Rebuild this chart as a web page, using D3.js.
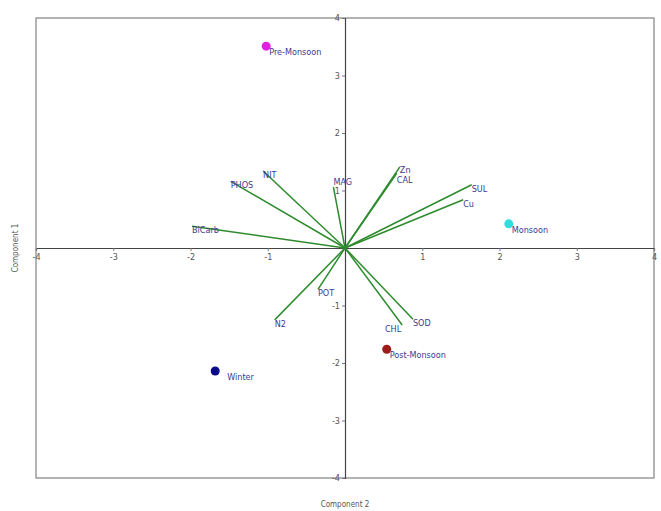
<!DOCTYPE html>
<html>
<head>
<meta charset="utf-8">
<script src="https://d3js.org/d3.v7.min.js"></script>
<style>
  body { margin: 0; background: #fff; }
  text { font-family: "Liberation Sans Narrow", "DejaVu Sans Condensed", "Liberation Sans", sans-serif; }
</style>
</head>
<body>
<svg id="chart" width="661" height="511"></svg>
<script>
// loading vectors (Component 2, Component 1)
var varNames = ['BiCarb', 'PHOS', 'NIT', 'MAG', 'Zn', 'CAL', 'SUL', 'Cu', 'N2', 'POT', 'CHL', 'SOD'];
var varX = [-1.98, -1.48, -1.06, -0.15, 0.71, 0.67, 1.64, 1.53, -0.91, -0.35, 0.74, 0.88];
var varY = [0.38, 1.16, 1.34, 1.06, 1.41, 1.30, 1.10, 0.84, -1.25, -0.72, -1.34, -1.24];

// season scores
var seasons = ['Pre-Monsoon', 'Monsoon', 'Post-Monsoon', 'Winter'];
var seasonX = [-1.02, 2.12, 0.54, -1.68];
var seasonY = [3.51, 0.42, -1.76, -2.14];
var seasonColours = ['#e020e0', '#30dcdc', '#a01c1c', '#0a0a8a'];

var tickVals = [-4, -3, -2, -1, 1, 2, 3, 4];

var svg = d3.select('#chart');

var x = d3.scaleLinear().domain([-4, 4]).range([36, 654]);
var y = d3.scaleLinear().domain([-4, 4]).range([478, 18]);

// frame
svg.append('rect')
  .attr('x', x(-4))
  .attr('y', y(4))
  .attr('width', x(4) - x(-4))
  .attr('height', y(-4) - y(4))
  .attr('fill', 'white')
  .attr('stroke', '#9a9a9a')
  .attr('stroke-width', 1.5);

// axes through origin
var fmt = function(d) { return String(d); };
var xAxis = svg.append('g')
  .attr('transform', 'translate(0,' + y(0) + ')')
  .call(d3.axisBottom(x).tickValues(tickVals).tickSize(3).tickPadding(3).tickFormat(fmt));
var yAxis = svg.append('g')
  .attr('transform', 'translate(' + x(0) + ',0)')
  .call(d3.axisLeft(y).tickValues(tickVals).tickSize(3).tickPadding(2).tickFormat(fmt));

[xAxis, yAxis].forEach(function(a) {
  a.select('.domain').attr('stroke', '#444').attr('stroke-width', 1.2);
  a.selectAll('.tick line').attr('stroke', '#777');
  a.selectAll('.tick text')
    .attr('fill', '#555')
    .attr('font-size', 9)
    .style('font-family', '"Liberation Sans Narrow", "DejaVu Sans Condensed", sans-serif');
});

// loading vectors
svg.selectAll('.vec')
  .data(varNames)
  .enter()
  .append('line')
    .attr('class', 'vec')
    .attr('x1', x(0))
    .attr('y1', y(0))
    .attr('x2', function(d, i) { return x(varX[i]); })
    .attr('y2', function(d, i) { return y(varY[i]); })
    .attr('stroke', '#2e8b2e')
    .attr('stroke-width', 1.5);

// label nudges so the crowded ones do not collide
var labelDx = { MAG: 0, CHL: -1 };
var labelDy = { MAG: -2, Zn: 6, CAL: 10, CHL: 7 };

svg.selectAll('.vlab')
  .data(varNames)
  .enter()
  .append('text')
    .attr('class', 'vlab')
    .attr('x', function(d, i) { return x(varX[i]) + (labelDx[d] || 0); })
    .attr('y', function(d, i) { return y(varY[i]) + (labelDy[d] !== undefined ? labelDy[d] : 7); })
    .attr('text-anchor', function(d) { return d === 'CHL' ? 'end' : 'start'; })
    .attr('fill', '#3a3a90')
    .attr('font-size', 9)
    .text(function(d) { return d; });

// season points
svg.selectAll('.pt')
  .data(seasons)
  .enter()
  .append('circle')
    .attr('class', 'pt')
    .attr('cx', function(d, i) { return x(seasonX[i]); })
    .attr('cy', function(d, i) { return y(seasonY[i]); })
    .attr('r', 4.5)
    .attr('fill', function(d, i) { return seasonColours[i]; });

svg.selectAll('.plab')
  .data(seasons)
  .enter()
  .append('text')
    .attr('class', 'plab')
    .attr('x', function(d, i) { return x(seasonX[i]) + (d === 'Winter' ? 12 : 3); })
    .attr('y', function(d, i) { return y(seasonY[i]) + 9; })
    .attr('fill', '#3a3a90')
    .attr('font-size', 9)
    .text(function(d) { return d; });

// axis titles
svg.append('text')
  .attr('x', x(0))
  .attr('y', 507)
  .attr('text-anchor', 'middle')
  .attr('fill', '#555')
  .attr('font-size', 8)
  .text('Component 2');

svg.append('text')
  .attr('transform', 'translate(18,' + y(0) + ') rotate(-90)')
  .attr('text-anchor', 'middle')
  .attr('fill', '#555')
  .attr('font-size', 8)
  .text('Component 1');
</script>
</body>
</html>
